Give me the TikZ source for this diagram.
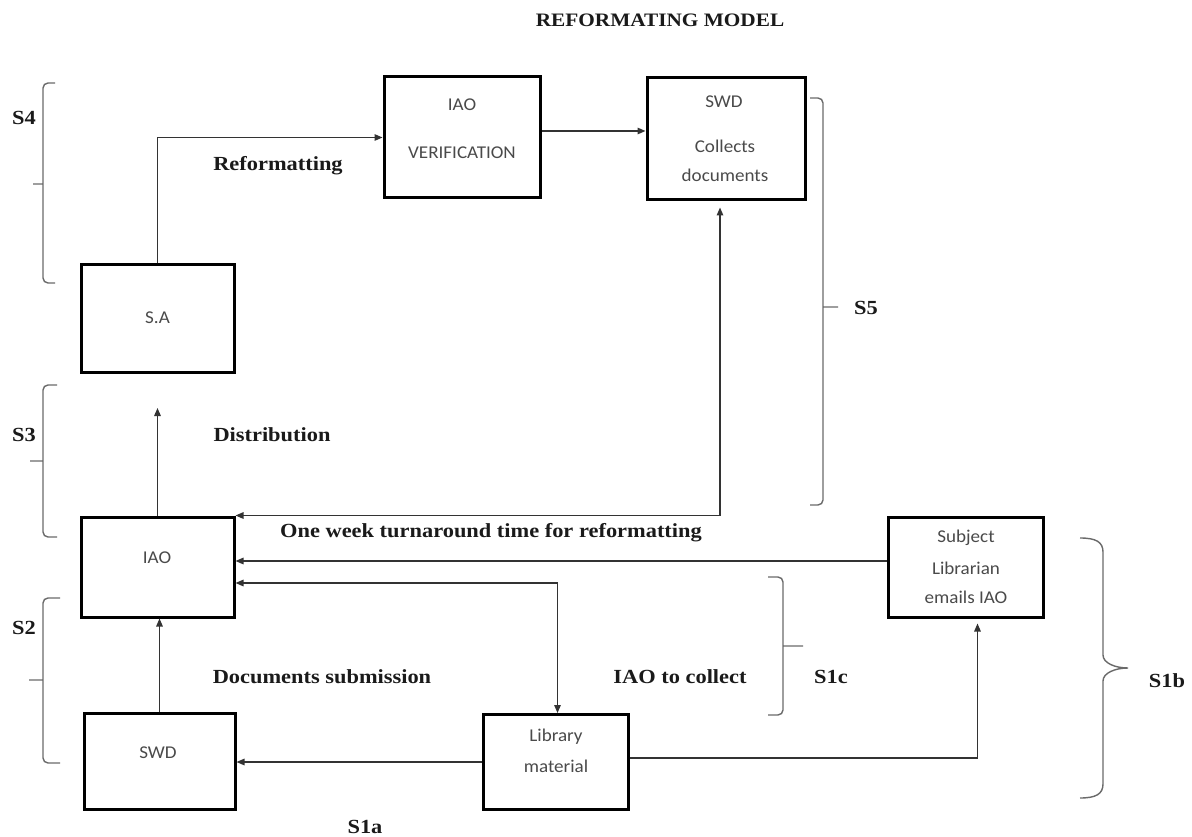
\documentclass[tikz,border=0pt]{standalone}
\usepackage{fontspec}
\usetikzlibrary{arrows.meta}
\newfontfamily\lblfont[FakeStretch=1.12]{Liberation Serif}
\newfontfamily\boxfont[FakeStretch=1.06]{Carlito}
\definecolor{conncol}{HTML}{333333}
\definecolor{bracecol}{HTML}{6A6A6A}
\definecolor{boxgray}{HTML}{4A4A4A}
\definecolor{lblcol}{HTML}{1A1A1A}
\begin{document}
\begin{tikzpicture}[x=1pt,y=-1pt,
  box/.style={draw=black, line width=3pt, inner sep=0pt},
  btext/.style={font=\boxfont\fontsize{18}{20}\selectfont, text=boxgray, inner sep=0pt},
  lbl/.style={font=\lblfont\bfseries\fontsize{20}{22}\selectfont, text=lblcol, inner sep=0pt},
  conn/.style={draw=conncol, line width=1.4pt, -{Triangle[length=8pt,width=6.5pt]}},
  dconn/.style={draw=conncol, line width=1.4pt, {Triangle[length=8pt,width=6.5pt]}-{Triangle[length=8pt,width=6.5pt]}},
  brace/.style={draw=bracecol, line width=1.4pt, rounded corners=5pt}]
\useasboundingbox (0,0) rectangle (1192,837);
\fill[white] (0,0) rectangle (1192,837);

% title
\node[lbl, font=\lblfont\bfseries\fontsize{19}{21}\selectfont] (title) at (660,20) {REFORMATING MODEL};

% boxes
\node[box, minimum width=153pt, minimum height=107pt] (sa) at (157.5,318.5) {};
\node[btext] (tsa) at (157.5,318) {S.A};
\node[box, minimum width=156pt, minimum height=121pt] (ver) at (462,137.5) {};
\node[btext] (tver1) at (462,105) {IAO};
\node[btext] (tver2) at (462,153) {VERIFICATION};
\node[box, minimum width=158pt, minimum height=122pt] (swdc) at (726,139) {};
\node[btext] (tswdc1) at (724,102) {SWD};
\node[btext] (tswdc2) at (725,146) {Collects};
\node[btext] (tswdc3) at (725,175) {documents};
\node[box, minimum width=153pt, minimum height=100pt] (iao) at (157.5,567) {};
\node[btext] (tiao) at (157,558) {IAO};
\node[box, minimum width=151pt, minimum height=96pt] (swd) at (159.5,761) {};
\node[btext] (tswd) at (158,753) {SWD};
\node[box, minimum width=145pt, minimum height=95pt] (lib) at (555.5,762) {};
\node[btext] (tlib1) at (556,737) {Library};
\node[btext] (tlib2) at (556,766) {material};
\node[box, minimum width=155pt, minimum height=100pt] (subj) at (965.5,567) {};
\node[btext] (tsubj1) at (966,538) {Subject};
\node[btext] (tsubj2) at (966,568) {Librarian};
\node[btext] (tsubj3) at (966,597) {emails IAO};

% connectors
\coordinate (dtip) at (157.5,408);
\draw[conn] (sa.north) |- (ver.west);
\draw[conn] ([yshift=6.5pt]ver.east) -- ([yshift=6.5pt]ver.east -| swdc.west);
\draw[dconn, shorten >=6pt] (iao.north east) -| ([xshift=-6pt]swdc.south);
\draw[conn] ([yshift=6pt]subj.west) -- ([yshift=6pt]subj.west -| iao.east);
\draw[dconn] ([yshift=-16pt]iao.east) -| ([xshift=2pt]lib.north);
\draw[conn] (swd.north) -- (swd.north |- iao.south);
\draw[conn] (iao.north) -- (dtip);
\draw[conn] (lib.west) -- (lib.west -| swd.east);
\draw[conn, shorten >=5pt] ([yshift=4pt]lib.east) -| ([xshift=12pt]subj.south);

% braces
\draw[brace] (55,83) -- (43,83) -- (43,283) -- (55,283) (43,184) -- (33,184);
\draw[brace] (57,385) -- (43,385) -- (43,537) -- (57,537) (43,461) -- (30,461);
\draw[brace] (60,598) -- (43,598) -- (43,763) -- (60,763) (43,680) -- (29,680);
\draw[brace] (810,98) -- (823,98) -- (823,505) -- (810,505) (823,307) -- (838,307);
\draw[brace] (768,577) -- (783,577) -- (783,715) -- (768,715) (783,646) -- (803,646);
\draw[draw=bracecol, line width=1.4pt] (1080,538) .. controls (1096,538) and (1103,542) .. (1103,552) -- (1103,655) .. controls (1103,663) and (1115,668) .. (1128,668) .. controls (1115,668) and (1103,673) .. (1103,681) -- (1103,784) .. controls (1103,794) and (1096,798) .. (1080,798);

% labels
\node[lbl] (s4) at (24,118) {S4};
\node[lbl] (s3) at (24,435) {S3};
\node[lbl] (s2) at (24,628) {S2};
\node[lbl] (s5) at (866,308) {S5};
\node[lbl] (s1c) at (831,677) {S1c};
\node[lbl] (s1b) at (1167,681) {S1b};
\node[lbl] (s1a) at (365,827) {S1a};
\node[lbl] (lref) at (278,166) {Reformatting};
\node[lbl] (ldist) at (272,435) {Distribution};
\node[lbl] (lweek) at (491,533) {One week turnaround time for reformatting};
\node[lbl] (ldoc) at (322,677) {Documents submission};
\node[lbl] (lcol) at (680,677) {IAO to collect};
\end{tikzpicture}
\end{document}
